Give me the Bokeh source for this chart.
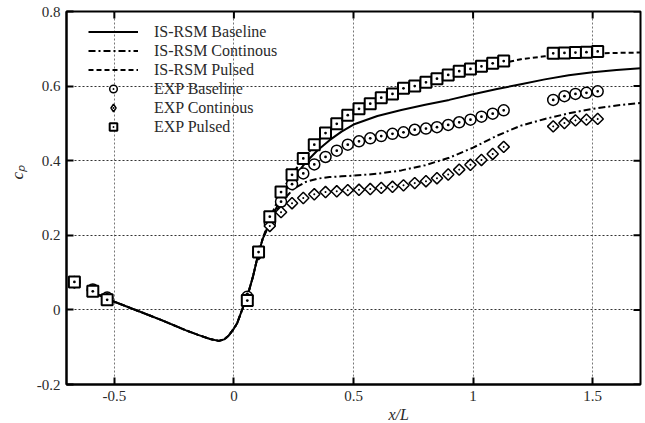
import math
from bokeh.plotting import figure
from bokeh.models import Legend, LegendItem, FixedTicker, Range1d, Title
from bokeh.embed import file_html
from bokeh.resources import INLINE

# ---------------- data ----------------
x_ticks = [-0.5, 0, 0.5, 1, 1.5]
x_tick_labels = ["-0.5", "0", "0.5", "1", "1.5"]
y_ticks = [-0.2, 0, 0.2, 0.4, 0.6, 0.8]
y_tick_labels = ["-0.2", "0", "0.2", "0.4", "0.6", "0.8"]

# common upstream part of the three computed curves
common_x = [-0.6, -0.5, -0.4, -0.3, -0.2, -0.15, -0.1, -0.063, -0.04, -0.022,
            0.0, 0.014, 0.034, 0.06, 0.08, 0.1, 0.12]
common_cp = [0.05, 0.022, -0.003, -0.028, -0.055, -0.067, -0.078, -0.083,
             -0.079, -0.069, -0.05, -0.035, 0.0, 0.045, 0.09, 0.145, 0.19]

tail_x = [0.15, 0.2, 0.25, 0.3, 0.35, 0.4, 0.45, 0.5, 0.6, 0.7, 0.8, 0.9,
          1.0, 1.1, 1.2, 1.3, 1.4, 1.5, 1.6, 1.7]
rsm_baseline = [0.235, 0.305, 0.355, 0.395, 0.428, 0.455, 0.478, 0.497, 0.52,
                0.536, 0.55, 0.563, 0.578, 0.592, 0.605, 0.618, 0.629, 0.637,
                0.643, 0.648]
rsm_continuous = [0.232, 0.29, 0.325, 0.343, 0.352, 0.356, 0.358, 0.36, 0.365,
                  0.374, 0.388, 0.408, 0.435, 0.467, 0.494, 0.512, 0.527,
                  0.539, 0.548, 0.555]
rsm_pulsed = [0.245, 0.318, 0.37, 0.412, 0.452, 0.483, 0.508, 0.528, 0.562,
              0.59, 0.609, 0.627, 0.645, 0.658, 0.672, 0.68, 0.685, 0.687,
              0.689, 0.69]

exp_x = [-0.667, -0.59, -0.53, 0.056, 0.103, 0.15, 0.197, 0.243, 0.29, 0.336,
         0.383, 0.43, 0.476, 0.523, 0.57, 0.616, 0.663, 0.709, 0.756, 0.803,
         0.849, 0.896, 0.942, 0.989, 1.035, 1.082, 1.128, 1.335, 1.382,
         1.428, 1.474, 1.521]
exp_baseline = [0.075, 0.055, 0.033, 0.035, 0.155, 0.232, 0.29, 0.337, 0.366,
                0.39, 0.41, 0.427, 0.443, 0.452, 0.46, 0.466, 0.472, 0.476,
                0.483, 0.486, 0.49, 0.496, 0.503, 0.51, 0.518, 0.526, 0.535,
                0.563, 0.573, 0.579, 0.582, 0.586]
exp_continuous = [0.073, 0.052, 0.03, 0.03, 0.15, 0.225, 0.262, 0.286, 0.3,
                  0.31, 0.316, 0.318, 0.321, 0.322, 0.324, 0.327, 0.33, 0.334,
                  0.34, 0.345, 0.353, 0.363, 0.376, 0.389, 0.402, 0.418,
                  0.437, 0.492, 0.501, 0.508, 0.51, 0.512]
exp_pulsed = [0.075, 0.05, 0.027, 0.025, 0.155, 0.25, 0.316, 0.362, 0.406,
              0.443, 0.474, 0.499, 0.522, 0.539, 0.553, 0.569, 0.579, 0.594,
              0.6, 0.61, 0.62, 0.63, 0.64, 0.646, 0.653, 0.661, 0.667, 0.688,
              0.689, 0.69, 0.691, 0.693]

legend_labels = ["IS-RSM Baseline", "IS-RSM Continous", "IS-RSM Pulsed",
                 "EXP Baseline", "EXP Continous", "EXP Pulsed"]

# ---------------- figure ----------------
FONT = "Liberation Serif"
TXT = "#2a2a2a"
X0, X1, Y0, Y1 = -0.7, 1.7, -0.2, 0.8

p = figure(width=644, height=422, x_range=Range1d(X0, X1),
           y_range=Range1d(Y0, Y1), output_backend="svg",
           toolbar_location=None, min_border_left=66, min_border_right=4,
           min_border_top=11, min_border_bottom=38)
p.background_fill_color = "white"
p.border_fill_color = "white"
p.outline_line_color = "black"
p.outline_line_width = 2

for ax, ticks, labels in ((p.xaxis[0], x_ticks, x_tick_labels),
                          (p.yaxis[0], y_ticks, y_tick_labels)):
    ax.ticker = FixedTicker(ticks=ticks)
    ax.major_label_overrides = {t: l for t, l in zip(ticks, labels)}
    ax.major_tick_in = 7
    ax.major_tick_out = 0
    ax.minor_tick_line_color = None
    ax.major_tick_line_width = 2
    ax.axis_line_width = 2
    ax.major_label_text_font = FONT
    ax.major_label_text_font_size = "15px"
    ax.major_label_text_color = TXT
p.xaxis[0].major_label_standoff = 6
p.yaxis[0].major_label_standoff = 6

# mirrored inward ticks on the top and right edges
p.ray(x=x_ticks, y=Y1, length=7, length_units="screen", angle=-math.pi / 2,
      line_color="black", line_width=2)
p.ray(x=X1, y=y_ticks, length=7, length_units="screen", angle=math.pi,
      line_color="black", line_width=2)

p.xgrid.ticker = FixedTicker(ticks=x_ticks)
p.ygrid.ticker = FixedTicker(ticks=y_ticks)
p.xgrid.grid_line_color = "#777777"
p.ygrid.grid_line_color = "#333333"
p.xgrid.grid_line_dash = "2 2"
p.ygrid.grid_line_dash = "2 2"
p.xgrid.grid_line_width = 1
p.ygrid.grid_line_width = 1

# ---------------- curves ----------------
l1 = p.line(common_x + tail_x, common_cp + rsm_baseline, line_color="black",
            line_width=2)
l2 = p.line(common_x + tail_x, common_cp + rsm_continuous, line_color="black",
            line_width=2, line_dash="7 3 2 3")
l3 = p.line(common_x + tail_x, common_cp + rsm_pulsed, line_color="black",
            line_width=2, line_dash="5 3")

m1 = p.scatter(exp_x, exp_baseline, marker="circle_dot", size=11,
               line_color="black", line_width=1.5, fill_color="white")
m2 = p.scatter(exp_x, exp_continuous, marker="square_dot", size=8,
               angle=math.pi / 4, line_color="black", line_width=1.5,
               fill_color="white")
m3 = p.scatter(exp_x, exp_pulsed, marker="square_dot", size=11,
               line_color="black", line_width=2, fill_color="white")
# legend swatch for the diamonds (the legend does not rotate markers);
# the renderer itself is hidden, only its key is drawn in the legend
m2_key = p.scatter(exp_x, exp_continuous, marker="diamond_dot", size=14,
                   line_color="black", line_width=1.5, fill_color="white",
                   visible=False)

legend = Legend(items=[LegendItem(label=lab, renderers=[r]) for lab, r in
                       zip(legend_labels, [l1, l2, l3, m1, m2_key, m3])],
                location=(22, 248), padding=0, margin=0, spacing=0,
                glyph_width=50, glyph_height=19, label_height=19,
                label_standoff=16, border_line_color=None,
                background_fill_alpha=0)
legend.label_text_font = FONT
legend.label_text_font_size = "16px"
legend.label_text_color = TXT
p.add_layout(legend)

# axis titles (as panel titles so they are not clipped by the frame)
p.add_layout(Title(text="x/L", text_font=FONT, text_font_style="italic",
                   text_font_size="16px", text_color=TXT, align="left",
                   offset=322, standoff=0), "below")
p.add_layout(Title(text="c\u209a", text_font=FONT, text_font_style="italic",
                   text_font_size="17px", text_color=TXT, align="left",
                   offset=205, standoff=10, vertical_align="top"), "left")

open("out.html", "w").write(file_html(p, INLINE))
